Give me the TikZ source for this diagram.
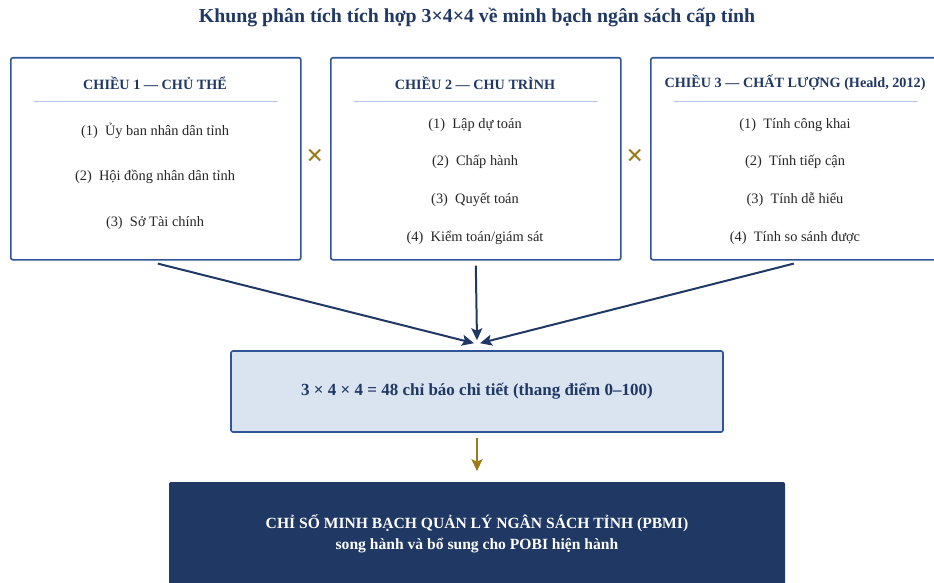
\documentclass[tikz,border=0pt]{standalone}
\usepackage{fontspec}
\setmainfont{Liberation Serif}
\usetikzlibrary{arrows.meta, positioning, calc}
\definecolor{cnavy}{HTML}{1F3864}
\definecolor{cblue}{HTML}{2F5597}
\definecolor{clight}{HTML}{DAE3F0}
\definecolor{crule}{HTML}{B4C7E7}
\definecolor{cgold}{HTML}{9C7A17}
\definecolor{ctext}{HTML}{262626}
\tikzset{
  every picture/.style={x=1pt, y=-1pt, line width=1.6pt},
  dimbox/.style={draw=cblue, fill=white, rounded corners=2pt, anchor=north west, inner sep=0pt, minimum width=290pt, minimum height=202pt},
  head/.style={font=\bfseries\fontsize{14.2}{16}\selectfont, text=cnavy},
  item/.style={font=\fontsize{14.4}{16}\selectfont, text=ctext},
  mult/.style={font=\bfseries\fontsize{30}{30}\selectfont, text=cgold},
  sepline/.style={draw=crule, line width=1pt},
  midbox/.style={draw=cblue, fill=clight, rounded corners=2pt, minimum width=492pt, minimum height=81pt, font=\bfseries\fontsize{17}{19}\selectfont, text=cnavy},
  pbmibox/.style={fill=cnavy, rounded corners=2pt, minimum width=616pt, minimum height=103pt, align=center, font=\bfseries\fontsize{15.6}{21}\selectfont, text=white},
  arrow/.style={-{Stealth[length=12pt, width=11pt, inset=2.5pt]}, draw=cnavy, line width=2pt},
  goldarrow/.style={-{Stealth[length=12pt, width=11pt, inset=2.5pt]}, draw=cgold, line width=2.2pt},
  title/.style={font=\bfseries\fontsize{19.8}{22}\selectfont, text=cnavy},
}

\begin{document}
\begin{tikzpicture}
  \useasboundingbox (0,0) rectangle (934,583);
  \node[title] (ttl) at (477,17) {Khung phân tích tích hợp 3×4×4 về minh bạch ngân sách cấp tỉnh};
  % the three dimensions
  \foreach \n/\x in {d1/10, d2/330, d3/650} {
    \node[dimbox] (\n) at (\x,57) {};
    \draw[sepline] ($(\n.north west)+(24,45)$) -- ($(\n.north east)+(-24,45)$);
  }
  \node[head] (h1) at (155,83) {CHIỀU 1 — CHỦ THỂ};
  \node[head] (h2) at (475,83) {CHIỀU 2 — CHU TRÌNH};
  \node[head] (h3) at (795,83) {CHIỀU 3 — CHẤT LƯỢNG (Heald, 2012)};
  \foreach \y/\t [count=\i] in {131/{Ủy ban nhân dân tỉnh}, 177/{Hội đồng nhân dân tỉnh}, 223/{Sở Tài chính}} {
    \node[item] (a\i) at (155,\y) {(\i)~~\t};
  }
  \foreach \y/\t [count=\i] in {125/{Lập dự toán}, 162/{Chấp hành}, 200/{Quyết toán}, 238/{Kiểm toán/giám sát}} {
    \node[item] (b\i) at (475,\y) {(\i)~~\t};
  }
  \foreach \y/\t [count=\i] in {125/{Tính công khai}, 162/{Tính tiếp cận}, 200/{Tính dễ hiểu}, 238/{Tính so sánh được}} {
    \node[item] (c\i) at (795,\y) {(\i)~~\t};
  }
  \node[mult] (x1) at (315,157) {×};
  \node[mult] (x2) at (635,157) {×};
  % combined indicators and final index
  \node[midbox] (mid) at (477,391.5) {3 × 4 × 4 = 48 chỉ báo chi tiết (thang điểm 0–100)};
  \node[pbmibox] (pbmi) at (477,533.5) {CHỈ SỐ MINH BẠCH QUẢN LÝ NGÂN SÁCH TỈNH (PBMI)\\song hành và bổ sung cho POBI hiện hành};
  \draw[arrow] ($(d1.south)+(2,3)$) -- ($(mid.north)+(-3,-7)$);
  \draw[arrow] ($(d2.south)+(0,5)$) -- ($(mid.north)+(0,-10)$);
  \draw[arrow] ($(d3.south)+(-2,3)$) -- ($(mid.north)+(3,-7)$);
  \draw[goldarrow] ($(mid.south)+(0,5)$) -- ($(pbmi.north)+(0,-10)$);
\end{tikzpicture}
\end{document}
